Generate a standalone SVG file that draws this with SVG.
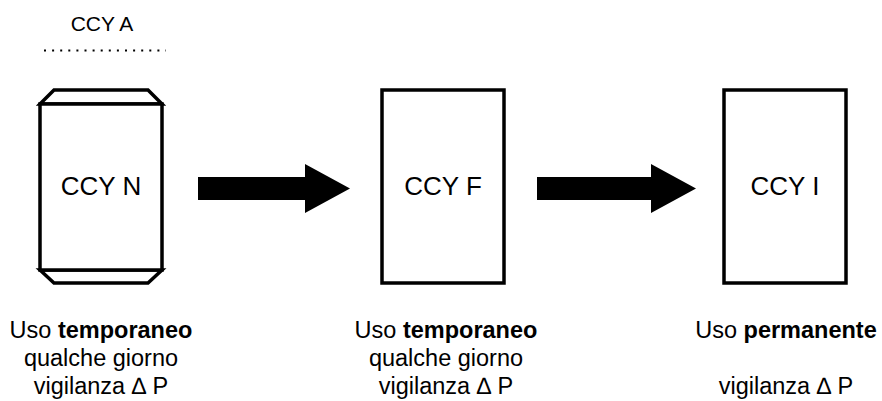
<svg xmlns="http://www.w3.org/2000/svg" width="882" height="401" viewBox="0 0 882 401">
<style>
.box{fill:#fff;stroke:#000;stroke-width:3.5;stroke-linejoin:miter}
.lbl{font-family:"Liberation Sans",Arial,sans-serif;font-size:26px;fill:#000;text-anchor:middle}
.cap{font-family:"Liberation Sans",Arial,sans-serif;font-size:23.5px;fill:#000;text-anchor:middle}
.arrow{fill:#000}
</style>
<rect width="882" height="401" fill="#fff"/>
<g id="ccy-a">
<text x="102" y="31" class="lbl" style="font-size:21px">CCY A</text>
<line x1="44" y1="50.5" x2="166" y2="50.5" stroke="#000" stroke-width="2" stroke-dasharray="2,6.1"/>
</g>
<g id="ccy-n">
<path class="box" d="M40,104 L54,90 L148,90 L162,104 Z"/>
<path class="box" d="M40,270 L54,283 L148,283 L162,270 Z"/>
<rect class="box" x="40" y="104" width="122" height="166"/>
<text x="101" y="195" class="lbl">CCY N</text>
</g>
<g id="ccy-f">
<rect class="box" x="382" y="90" width="122" height="193"/>
<text x="443" y="195" class="lbl">CCY F</text>
</g>
<g id="ccy-i">
<rect class="box" x="724" y="90" width="122" height="193"/>
<text x="785" y="195" class="lbl">CCY I</text>
</g>
<g id="connectors">
<polygon class="arrow" points="198,177 305,177 305,164 350,188.5 305,213 305,200 198,200"/>
<polygon class="arrow" points="537,177 651,177 651,164 696,188.5 651,213 651,200 537,200"/>
</g>
<g id="caption-n">
<text x="101" y="338" class="cap">Uso <tspan font-weight="bold">temporaneo</tspan></text>
<text x="101" y="366" class="cap">qualche giorno</text>
<text x="101" y="394" class="cap">vigilanza ∆ P</text>
</g>
<g id="caption-f">
<text x="446" y="338" class="cap">Uso <tspan font-weight="bold">temporaneo</tspan></text>
<text x="446" y="366" class="cap">qualche giorno</text>
<text x="446" y="394" class="cap">vigilanza ∆ P</text>
</g>
<g id="caption-i">
<text x="786" y="338" class="cap">Uso <tspan font-weight="bold">permanente</tspan></text>
<text x="786" y="394" class="cap">vigilanza ∆ P</text>
</g>
</svg>
